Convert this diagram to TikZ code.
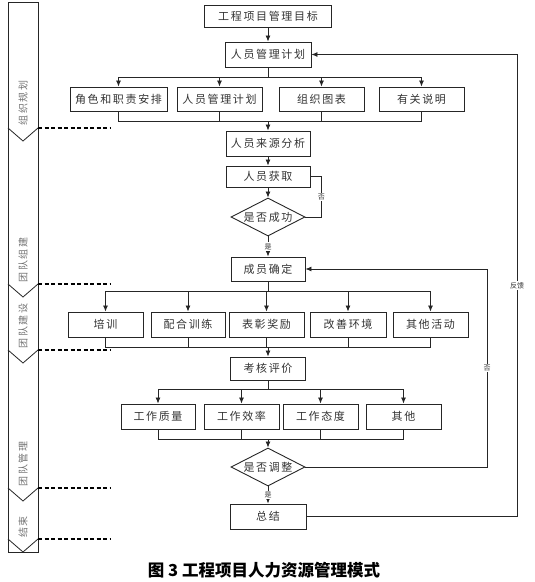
\documentclass[tikz,border=0pt]{standalone}
\usepackage{fontspec}
\newfontfamily\cjk{Noto Sans CJK SC}[LetterSpace=15]
\newfontfamily\cjkplain{Noto Sans CJK SC}
\usetikzlibrary{shapes.geometric,arrows.meta}

\begin{document}
\begin{tikzpicture}[x=1pt,y=-1pt,
    box/.style={draw=black!85, line width=0.9pt, inner sep=0pt, minimum height=24pt,
        font=\cjk\fontsize{11}{13}\selectfont, text=black!80},
    decision/.style={draw=black!85, line width=0.9pt, shape=diamond, aspect=2, inner sep=0pt,
        minimum width=74pt, minimum height=38pt, font=\cjk\fontsize{11}{13}\selectfont, text=black!80},
    arr/.style={-{Latex[length=6pt,width=5pt]}, line width=0.8pt, draw=black!85},
    link/.style={line width=0.8pt, draw=black!85},
    tag/.style={fill=white, inner sep=1pt, font=\cjkplain\fontsize{7}{8}\selectfont, text=black!80},
    stage/.style={rotate=90, text=black!55, font=\cjk\fontsize{10}{11}\selectfont},
    sep/.style={dash pattern=on 4pt off 2.5pt, line width=1.4pt}]
    \useasboundingbox (0,0) rectangle (535,582);
    % left stage bar
    \draw[link] (8,2) rectangle (38,552);
    \foreach \y in {128,284,350,488,539} {
        \draw[link] (8,\y) -- (23,\y+13) -- (38,\y);
        \draw[sep] (38,\y) -- (110,\y);
    }
    \node[stage] (s1) at (23,103) {组织规划};
    \node[stage] (s2) at (23,260) {团队组建};
    \node[stage] (s3) at (23,326) {团队建设};
    \node[stage] (s4) at (23,464) {团队管理};
    \node[stage] (s5) at (23,527) {结束};
    % main flow
    \node[box, minimum width=127pt, minimum height=22pt] (goal) at (268,16) {工程项目管理目标};
    \node[box, minimum width=86pt, minimum height=25pt] (plan) at (268,54.5) {人员管理计划};
    \node[box, minimum width=97pt] (roles) at (118.5,99) {角色和职责安排};
    \node[box, minimum width=85pt] (staffing) at (219.5,99) {人员管理计划};
    \node[box, minimum width=85pt] (chart) at (321.5,99) {组织图表};
    \node[box, minimum width=85pt] (notes) at (421.5,99) {有关说明};
    \node[box, minimum width=84pt, minimum height=25pt] (source) at (268,143.5) {人员来源分析};
    \node[box, minimum width=84pt, minimum height=21pt] (acquire) at (268,176.5) {人员获取};
    \node[decision] (success) at (268,217) {是否成功};
    \node[box, minimum width=74pt] (confirm) at (268,269) {成员确定};
    \node[box, minimum width=75pt, minimum height=25pt] (training) at (105.5,324.5) {培训};
    \node[box, minimum width=74pt, minimum height=25pt] (drill) at (188,324.5) {配合训练};
    \node[box, minimum width=75pt, minimum height=25pt] (reward) at (266.5,324.5) {表彰奖励};
    \node[box, minimum width=76pt, minimum height=25pt] (env) at (348,324.5) {改善环境};
    \node[box, minimum width=75pt, minimum height=25pt] (other) at (430.5,324.5) {其他活动};
    \node[box, minimum width=75pt, minimum height=23pt] (assess) at (268,368.5) {考核评价};
    \node[box, minimum width=74pt, minimum height=25pt] (quality) at (158,416.5) {工作质量};
    \node[box, minimum width=75pt, minimum height=25pt] (efficiency) at (241.5,416.5) {工作效率};
    \node[box, minimum width=75pt, minimum height=25pt] (attitude) at (320.5,416.5) {工作态度};
    \node[box, minimum width=75pt, minimum height=25pt] (misc) at (403.5,416.5) {其他};
    \node[decision] (adjust) at (268,467) {是否调整};
    \node[box, minimum width=76pt, minimum height=25pt] (summary) at (268,516.5) {总结};
    \coordinate (join1) at (268,121);
    \coordinate (join2) at (268,347);
    \coordinate (join3) at (268,439);
    \coordinate (retA) at (487,0);
    \coordinate (retB) at (517,0);
    \draw[arr] (goal) -- (plan);
    \foreach \n in {roles,staffing,chart,notes} {
        \draw[arr] (plan.south) -- ++(0,10) -| (\n.north);
        \draw[link] (\n.south) |- (join1);
    }
    \draw[arr] (join1) -- (source);
    \draw[arr] (source) -- (acquire);
    \draw[arr] (acquire) -- (success);
    \draw[link] (acquire.east) -- ++(11,0) |- node[tag, pos=0.25]{否} (success.east);
    \draw[arr] (success) -- node[tag]{是} (confirm);
    \foreach \n in {training,drill,reward,env,other} {
        \draw[arr] (confirm.south) -- ++(0,10) -| (\n.north);
        \draw[link] (\n.south) |- (join2);
    }
    \draw[arr] (join2) -- (assess);
    \foreach \n in {quality,efficiency,attitude,misc} {
        \draw[arr] (assess.south) -- ++(0,9) -| (\n.north);
        \draw[link] (\n.south) |- (join3);
    }
    \draw[arr] (join3) -- (adjust);
    \draw[arr] (adjust) -- node[tag]{是} (summary);
    % feedback loops
    \draw[arr] (adjust.east) -- (adjust.east -| retA) -- node[tag]{否} (confirm.east -| retA) -- (confirm.east);
    \draw[arr] (summary.east) -- (summary.east -| retB) -- node[tag]{反馈} (plan.east -| retB) -- (plan.east);
    \node[font=\cjkplain\bfseries\fontsize{16.5}{18}\selectfont] (caption) at (264,570) {图 3 工程项目人力资源管理模式};
\end{tikzpicture}
\end{document}
